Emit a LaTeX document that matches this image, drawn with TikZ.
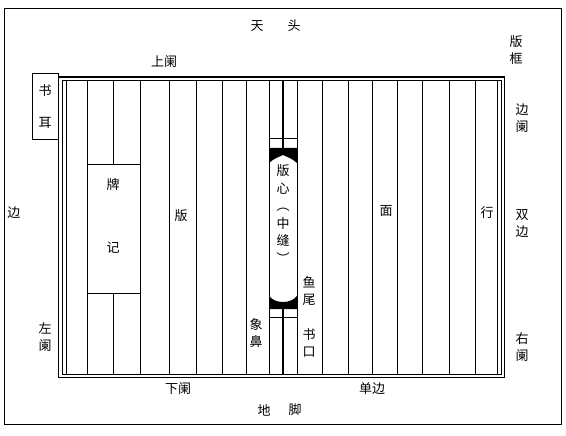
\documentclass[tikz,border=0pt]{standalone}
\usepackage{fontspec}
\newfontfamily\cjk{Noto Sans CJK SC}
\begin{document}
\begin{tikzpicture}[x=1pt,y=-1pt,
  lab/.style={font=\cjk\fontsize{13}{17}\selectfont, inner sep=0pt, align=center},
  frameline/.style={line width=1.3pt},
  thinline/.style={line width=0.8pt},
  col/.style={line width=0.9pt},
  boxed/.style={draw, line width=0.9pt, fill=white, inner sep=0pt}]
\useasboundingbox (0,0) rectangle (566,436);
% page outline
\draw[thinline] (4,8) rectangle (561,424);
% frame (double border)
\coordinate (fo1) at (58.5,77);  \coordinate (fo2) at (504.5,377.5);
\coordinate (fi1) at (62,80);    \coordinate (fi2) at (501,374.5);
\draw[frameline] (fo1) rectangle (fo2);
\draw[thinline] (fi1) rectangle (fi2);
% column lines
\foreach \x in {66,87,140,169,196,222,246,269,297,322,348,372,397,422,449,475,497}
  \draw[col] (\x,80) -- (\x,374.5);
% 书耳
\node[boxed, minimum width=26.5pt, minimum height=66pt] (shuer) at (45.25,106) {};
\node[lab] (shu1) at (45,91) {书};
\node[lab] (er) at (45,123) {耳};
% 牌记 box
\draw[col] (113,80) -- (113,164);
\draw[col] (113,293) -- (113,374.5);
\node[boxed, minimum width=53pt, minimum height=129pt] (paiji) at (113.5,228.5) {};
\node[lab] (pai) at (113,185) {牌};
\node[lab] (ji) at (113,248) {记};
% centre strip
\draw[line width=2.2pt] (283,80) -- (283,148);
\draw[line width=2.2pt] (283,309) -- (283,374.5);
\draw[col] (269,138) -- (297,138);
\draw[col] (269,317) -- (297,317);
\fill (269,148) -- (297,148) -- (297,163) .. controls (292,159) .. (283,155) .. controls (274,159) .. (269,163) -- cycle;
\fill (269,296) .. controls (275,304) and (291,304) .. (297,296) -- (297,309) -- (269,309) -- cycle;
\node[lab, font=\cjk\fontsize{13}{17.5}\selectfont] (banxin) at (283,214) {版\\心\\︵\\中\\缝\\︶};
% column texts
\node[lab] (ban) at (181,216) {版};
\node[lab] (mian) at (386,211) {面};
\node[lab] (hang) at (487,213) {行};
% outer labels
\node[lab] (tian) at (257,26) {天};
\node[lab] (tou) at (294,26) {头};
\node[lab] (di) at (264,410) {地};
\node[lab] (jiao) at (295,410) {脚};
\node[lab] (banku) at (516,50) {版\\框};
\node[lab] (shanglan) at (164,62) {上阑};
\node[lab] (xialan) at (178,389) {下阑};
\node[lab] (danbian) at (372,389) {单边};
\node[lab] (bianlan) at (522,118) {边\\阑};
\node[lab] (shuangbian) at (522,224) {双\\边};
\node[lab] (youlan) at (522,347) {右\\阑};
\node[lab] (bian) at (14,213) {边};
\node[lab] (zuolan) at (45,337) {左\\阑};
\node[lab] (xiangbi) at (256,333) {象\\鼻};
\node[lab] (yuwei) at (309,291) {鱼\\尾};
\node[lab] (shukou) at (309,343) {书\\口};
\end{tikzpicture}
\end{document}
